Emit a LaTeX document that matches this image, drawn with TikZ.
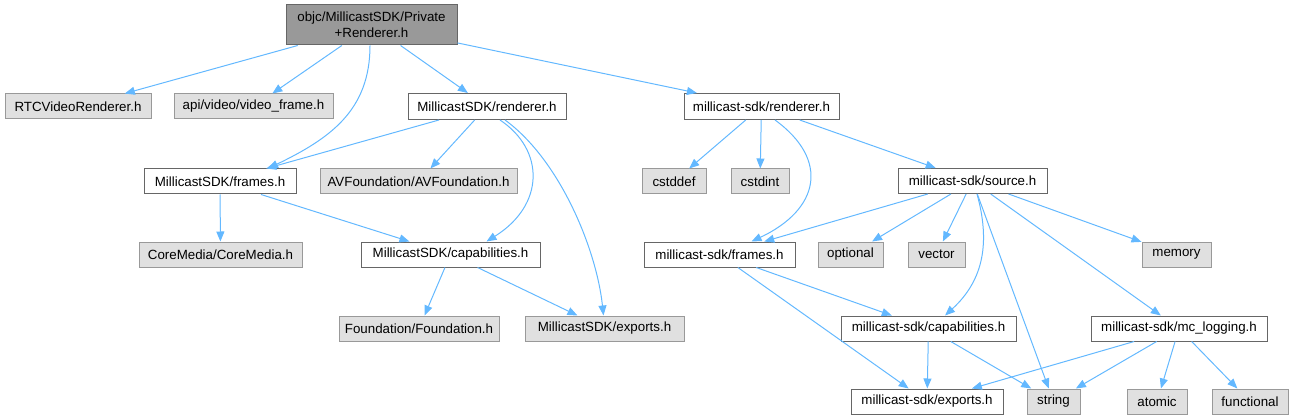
\documentclass[tikz,border=0pt]{standalone}
\usepackage{fontspec}
\setmainfont{Liberation Sans}
\usetikzlibrary{arrows.meta,calc}
\definecolor{edgeblue}{HTML}{63B8FF}
\definecolor{gfill}{HTML}{E0E0E0}
\definecolor{gdraw}{HTML}{999999}
\definecolor{wdraw}{HTML}{666666}
\definecolor{rootfill}{HTML}{999999}
\begin{document}
\begin{tikzpicture}[x=0.75pt,y=-0.75pt,
  base/.style={rectangle, inner sep=0pt, font=\fontsize{10}{12}\selectfont, text=black, line width=0.75pt},
  wh/.style 2 args={minimum width=#1*0.75pt, minimum height=#2*0.75pt},
  sysbox/.style={base, fill=gfill, draw=gdraw},
  filebox/.style={base, fill=white, draw=wdraw},
  rootbox/.style={base, fill=rootfill, draw=wdraw, align=center},
  edge/.style={draw=edgeblue, line width=0.75pt, -{Triangle[length=7.5pt,width=6pt]}}
]
\useasboundingbox (0,0) rectangle (1294,420);
% row 0
\node[rootbox, wh={171}{40}] (root) at (371.5,25) {objc/MillicastSDK/Private\\+Renderer.h};
% row 1
\node[sysbox, wh={146}{25}] (rtc) at (78,106.5) {RTCVideoRenderer.h};
\node[sysbox, wh={159}{25}] (api) at (253.5,106.5) {api/video/video\_frame.h};
\node[filebox, wh={158}{26}] (Mrend) at (487,106.5) {MillicastSDK/renderer.h};
\node[filebox, wh={155}{26}] (mrend) at (761.5,106.5) {millicast-sdk/renderer.h};
% row 2
\node[filebox, wh={152}{25}] (Mframes) at (220,181.5) {MillicastSDK/frames.h};
\node[sysbox, wh={197}{25}] (avf) at (418.5,181.5) {AVFoundation/AVFoundation.h};
\node[sysbox, wh={64}{25}] (cstddef) at (674,181.5) {cstddef};
\node[sysbox, wh={58}{25}] (cstdint) at (760,181.5) {cstdint};
\node[filebox, wh={149}{25}] (source) at (972.5,181) {millicast-sdk/source.h};
% row 3
\node[sysbox, wh={163}{25}] (coremedia) at (220.5,254.5) {CoreMedia/CoreMedia.h};
\node[filebox, wh={179}{25}] (Mcaps) at (450.5,254.5) {MillicastSDK/capabilities.h};
\node[filebox, wh={151}{25}] (mframes) at (719.5,254.5) {millicast-sdk/frames.h};
\node[sysbox, wh={65}{25}] (optional) at (850.5,254.5) {optional};
\node[sysbox, wh={57}{25}] (vector) at (936.5,254.5) {vector};
\node[sysbox, wh={69}{25}] (memory) at (1176.5,254.5) {memory};
% row 4
\node[sysbox, wh={160}{25}] (foundation) at (419,328.5) {Foundation/Foundation.h};
\node[sysbox, wh={159}{25}] (Mexports) at (604.5,328.5) {MillicastSDK/exports.h};
\node[filebox, wh={175}{25}] (mcaps) at (928.5,328.5) {millicast-sdk/capabilities.h};
\node[filebox, wh={176}{25}] (mclog) at (1179,328.5) {millicast-sdk/mc\_logging.h};
% row 5
\node[filebox, wh={152}{25}] (mexports) at (927,401.5) {millicast-sdk/exports.h};
\node[sysbox, wh={53}{25}] (string) at (1053.5,401.5) {string};
\node[sysbox, wh={60}{25}] (atomic) at (1157,401.5) {atomic};
\node[sysbox, wh={76}{25}] (functional) at (1250,401.5) {functional};

% edges from root
\draw[edge] (root) -- (rtc);
\draw[edge] (root) -- (api);
\draw[edge] ($(root.south)+(-1.5,0)$) .. controls ($(root.south)+(-1.5,65)$) and ($(Mframes.north)+(110,-30)$) .. ($(Mframes.north)+(48,0)$);
\draw[edge] (root) -- (Mrend);
\draw[edge] (root) -- (mrend);
% MillicastSDK/renderer.h
\draw[edge] (Mrend) -- (Mframes);
\draw[edge] (Mrend) -- (avf);
\draw[edge] ($(Mrend.south)+(13,0)$) .. controls ($(Mrend.south)+(58,30)$) and ($(Mrend.south)+(58,85)$) .. ($(Mcaps.north)+(36,0)$);
\draw[edge] ($(Mrend.south)+(18,0)$) .. controls ($(Mrend.south)+(73,40)$) and ($(Mexports.north)+(-8,-66)$) .. ($(Mexports.north)+(-1,0)$);
% MillicastSDK/frames.h
\draw[edge] (Mframes) -- (coremedia);
\draw[edge] (Mframes) -- (Mcaps);
% MillicastSDK/capabilities.h
\draw[edge] (Mcaps) -- (foundation);
\draw[edge] (Mcaps) -- (Mexports);
% millicast-sdk/renderer.h
\draw[edge] (mrend) -- (cstddef);
\draw[edge] (mrend) -- (cstdint);
\draw[edge] ($(mrend.south)+(13.5,0)$) .. controls ($(mrend.south)+(68.5,40)$) and ($(mframes.north)+(100,-32)$) .. ($(mframes.north)+(32,0)$);
\draw[edge] (mrend) -- (source);
% millicast-sdk/source.h
\draw[edge] (source) -- (mframes);
\draw[edge] (source) -- (optional);
\draw[edge] (source) -- (vector);
\draw[edge] ($(source.south)+(4.5,0)$) .. controls ($(source.south)+(17.5,47)$) and ($(mcaps.north)+(56,-36)$) .. ($(mcaps.north)+(16.5,0)$);
\draw[edge] (source) -- (string);
\draw[edge] (source) -- (mclog);
\draw[edge] (source) -- (memory);
% millicast-sdk/frames.h
\draw[edge] (mframes) -- (mcaps);
\draw[edge] (mframes) -- (mexports);
% millicast-sdk/capabilities.h
\draw[edge] (mcaps) -- (mexports);
\draw[edge] (mcaps) -- (string);
% mc_logging
\draw[edge] (mclog) -- (mexports);
\draw[edge] (mclog) -- (string);
\draw[edge] (mclog) -- (atomic);
\draw[edge] (mclog) -- (functional);
\end{tikzpicture}
\end{document}
